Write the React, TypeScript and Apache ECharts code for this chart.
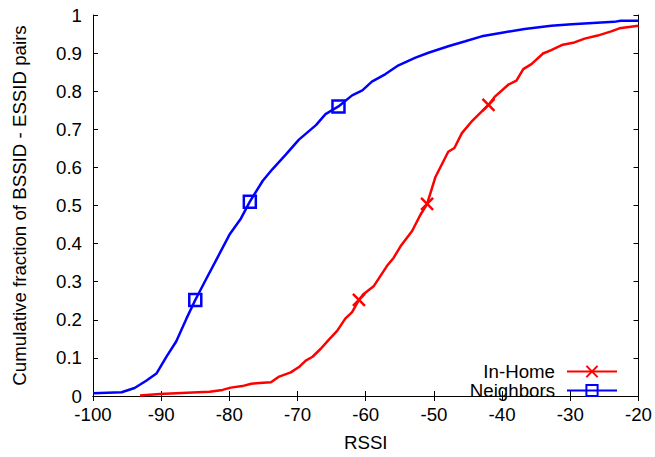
import React, { useEffect, useRef } from "react";
import * as echarts from "echarts";

const inHomeX = [-93.1, -90.2, -85.4, -82.9, -81, -79.8, -78.1, -76.8, -75.6, -73.9, -72.7, -71, -69.8, -68.8, -67.8, -66.6, -65.4, -64.2, -63, -62, -61, -60.3, -58.8, -56.9, -55.9, -54.9, -53.2, -52, -51, -49.8, -47.9, -47, -45.9, -44.5, -42, -41.1, -39.1, -37.9, -36.9, -35.7, -34, -32.8, -31.1, -29.4, -27.9, -26, -24, -22.8, -20];
const inHomeY = [0.001, 0.005, 0.009, 0.011, 0.016, 0.022, 0.026, 0.032, 0.034, 0.036, 0.051, 0.062, 0.076, 0.093, 0.103, 0.124, 0.148, 0.171, 0.203, 0.22, 0.252, 0.268, 0.289, 0.341, 0.363, 0.393, 0.433, 0.475, 0.504, 0.574, 0.641, 0.651, 0.69, 0.72, 0.764, 0.785, 0.817, 0.828, 0.858, 0.871, 0.899, 0.908, 0.922, 0.928, 0.938, 0.946, 0.957, 0.965, 0.972];
const inHomeMarkers = [-61, -51, -42];

const neighborsX = [-100, -95.8, -93.9, -92.2, -90.7, -89.2, -87.8, -86.3, -85, -83.4, -81.9, -80, -78.3, -77, -75.1, -73.7, -71.7, -69.8, -67.3, -65.9, -64, -62, -60.5, -59.1, -57.1, -55.2, -52.7, -50.8, -47.9, -45.4, -43, -39.6, -36.7, -32.8, -29.8, -23.6, -22.6, -20];
const neighborsY = [0.007, 0.01, 0.021, 0.04, 0.059, 0.104, 0.143, 0.203, 0.252, 0.307, 0.358, 0.423, 0.466, 0.51, 0.565, 0.595, 0.634, 0.673, 0.711, 0.74, 0.76, 0.789, 0.802, 0.825, 0.845, 0.868, 0.888, 0.901, 0.918, 0.931, 0.944, 0.955, 0.963, 0.972, 0.976, 0.982, 0.985, 0.985];
const neighborsMarkers = [-85, -77, -64];

const xTicks = { min: -100, max: -20, interval: 10 };
const yTicks = { min: 0, max: 1, interval: 0.1 };

const FONT = "Liberation Sans, Arial, Helvetica, sans-serif";

function buildData(xs: number[], ys: number[], markers: number[]) {
  return xs.map((x, i) => {
    const isMarker = markers.includes(x);
    return isMarker ? { value: [x, ys[i]] } : { value: [x, ys[i]], symbol: "none" };
  });
}

export default function App() {
  const ref = useRef<HTMLDivElement>(null);
  useEffect(() => {
    if (!ref.current) return;
    const chart = echarts.init(ref.current, null, { renderer: "svg" });
    const axisCommon = {
      type: "value" as const,
      axisLine: { show: true, lineStyle: { color: "#000", width: 1 } },
      axisTick: { show: true, inside: true, length: 5, lineStyle: { color: "#000" } },
      splitLine: { show: false },
    };
    const labelStyle = { fontSize: 18.7, color: "#000", fontFamily: FONT };
    const tickLabelStyle = { ...labelStyle, lineHeight: 15 };
    chart.setOption({
      animation: false,
      backgroundColor: "#fff",
      grid: { left: 93, right: 14, top: 15, bottom: 55, containLabel: false },
      xAxis: [
        {
          ...axisCommon,
          ...xTicks,
          position: "bottom",
          axisLabel: { ...tickLabelStyle, margin: 11 },
          name: "RSSI",
          nameLocation: "middle",
          nameGap: 37,
          nameTextStyle: labelStyle,
        },
        {
          ...axisCommon,
          ...xTicks,
          position: "top",
          axisLabel: { show: false },
        },
      ],
      yAxis: [
        {
          ...axisCommon,
          ...yTicks,
          position: "left",
          axisLabel: { ...tickLabelStyle, margin: 11 },
          name: "Cumulative fraction of BSSID - ESSID pairs",
          nameLocation: "middle",
          nameGap: 64,
          nameTextStyle: labelStyle,
        },
        {
          ...axisCommon,
          ...yTicks,
          position: "right",
          axisLabel: { show: false },
        },
      ],
      legend: [
        {
          data: ["In-Home"],
          right: 37,
          top: 362,
          padding: 0,
          align: "right",
          itemWidth: 50,
          itemHeight: 14,
          selectedMode: false,
          textStyle: { ...labelStyle, padding: [0, 7, 0, 0] },
        },
        {
          data: ["Neighbors"],
          right: 37,
          top: 381,
          padding: 0,
          align: "right",
          itemWidth: 50,
          itemHeight: 14,
          selectedMode: false,
          textStyle: { ...labelStyle, padding: [0, 7, 0, 0] },
        },
      ],
      series: [
        {
          name: "In-Home",
          type: "line",
          xAxisIndex: 0,
          yAxisIndex: 0,
          data: buildData(inHomeX, inHomeY, inHomeMarkers),
          symbol: "path://M0,0L10,10M0,10L10,0",
          symbolSize: 12,
          showSymbol: true,
          lineStyle: { color: "#ff0000", width: 2.5 },
          itemStyle: { color: "#ff0000", borderColor: "#ff0000", borderWidth: 2.5 },
          emphasis: { disabled: true },
          z: 3,
        },
        {
          name: "Neighbors",
          type: "line",
          xAxisIndex: 0,
          yAxisIndex: 0,
          data: buildData(neighborsX, neighborsY, neighborsMarkers),
          symbol: "rect",
          symbolSize: 12,
          showSymbol: true,
          lineStyle: { color: "#0000ff", width: 2.5 },
          itemStyle: { color: "transparent", borderColor: "#0000ff", borderWidth: 2.5 },
          emphasis: { disabled: true },
          z: 2,
        },
      ],
    });
    return () => chart.dispose();
  }, []);
  return (
    <div
      ref={ref}
      style={{ position: "fixed", left: 0, top: 0, width: 655, height: 457, background: "#fff" }}
    />
  );
}
